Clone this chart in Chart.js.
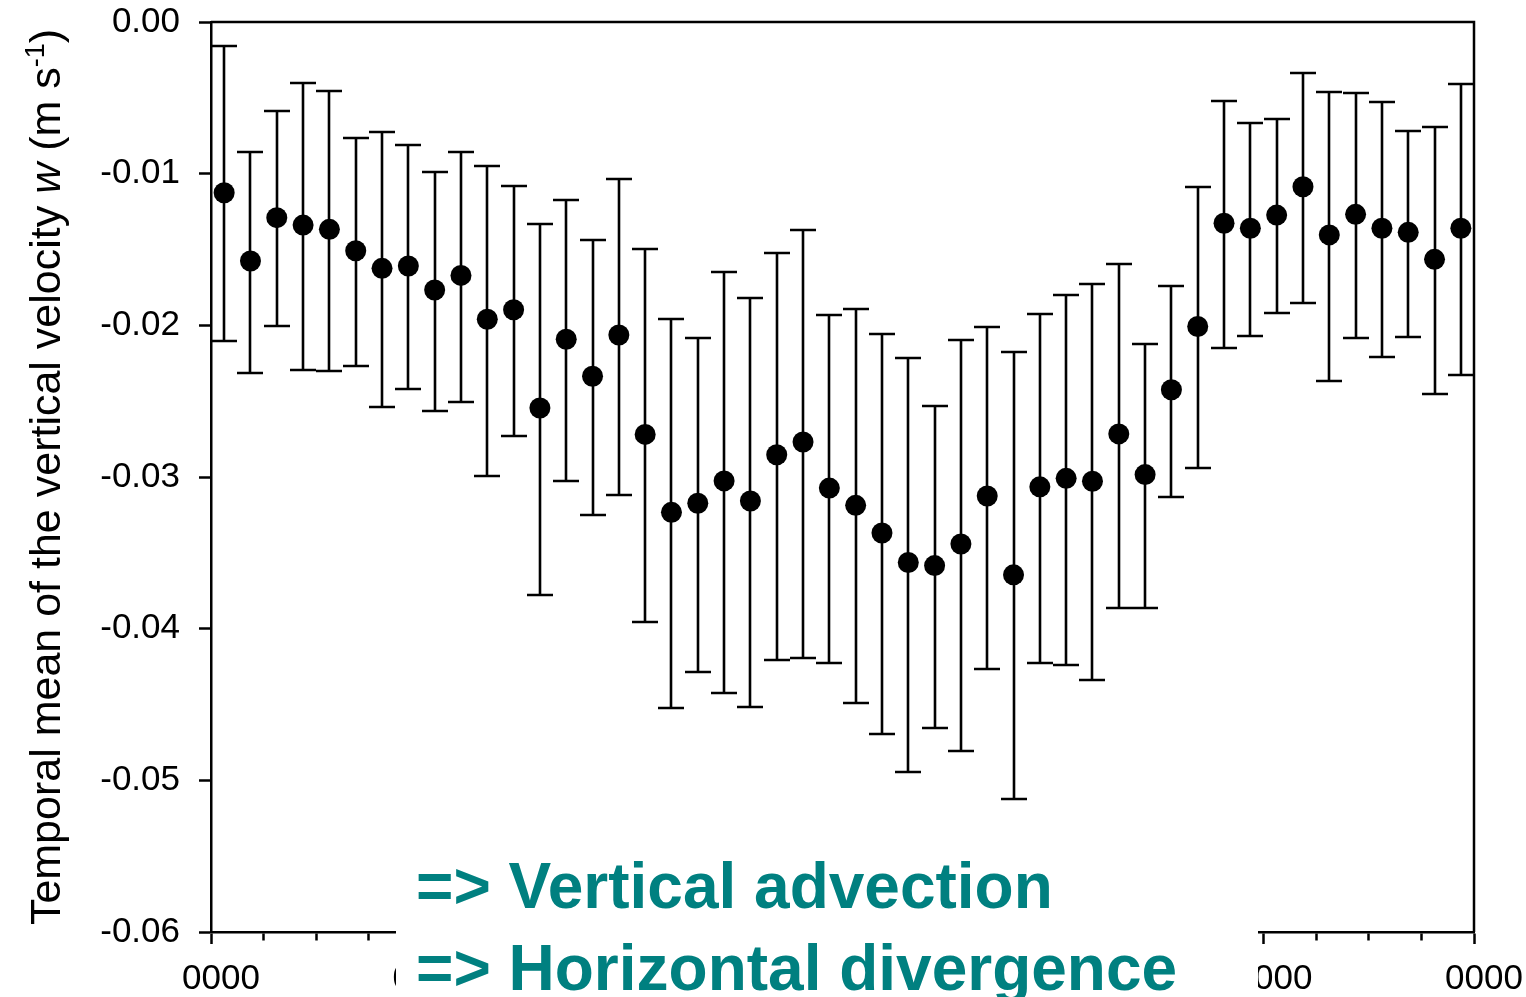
<!DOCTYPE html>
<html><head><meta charset="utf-8">
<script src="https://cdn.jsdelivr.net/npm/chart.js@4"></script>
<style>html,body{margin:0;padding:0;background:#fff;overflow:hidden}#wrap{width:1526px;height:997px;position:relative}</style>
</head><body><div id="wrap"><canvas id="c" width="1526" height="997"></canvas></div>
<script>
// Time of each half-hourly bin (hours after midnight)
const hours = [0.25,0.75,1.25,1.75,2.25,2.75,3.25,3.75,4.25,4.75,5.25,5.75,
  6.25,6.75,7.25,7.75,8.25,8.75,9.25,9.75,10.25,10.75,11.25,11.75,
  12.25,12.75,13.25,13.75,14.25,14.75,15.25,15.75,16.25,16.75,17.25,17.75,
  18.25,18.75,19.25,19.75,20.25,20.75,21.25,21.75,22.25,22.75,23.25,23.75];
// Temporal mean of w (m s-1)
const meanW = [-0.01126,-0.01576,-0.01290,-0.01339,-0.01367,-0.01508,-0.01624,-0.01609,-0.01767,-0.01671,
  -0.01960,-0.01897,-0.02545,-0.02092,-0.02336,-0.02064,-0.02719,-0.03233,-0.03173,-0.03026,
  -0.03158,-0.02853,-0.02769,-0.03073,-0.03187,-0.03369,-0.03564,-0.03584,-0.03442,-0.03125,
  -0.03645,-0.03065,-0.03009,-0.03028,-0.02716,-0.02984,-0.02425,-0.02008,-0.01327,-0.01360,
  -0.01273,-0.01086,-0.01404,-0.01268,-0.01360,-0.01387,-0.01565,-0.01360];
// Upper end of error bar
const upperW = [-0.00158,-0.00859,-0.00589,-0.00402,-0.00453,-0.00765,-0.00727,-0.00811,-0.00989,-0.00854,
  -0.00949,-0.01083,-0.01332,-0.01176,-0.01437,-0.01033,-0.01497,-0.01960,-0.02082,-0.01646,
  -0.01818,-0.01523,-0.01369,-0.01932,-0.01894,-0.02057,-0.02213,-0.02535,-0.02096,-0.02008,
  -0.02179,-0.01923,-0.01801,-0.01730,-0.01596,-0.02125,-0.01740,-0.01088,-0.00519,-0.00668,
  -0.00642,-0.00338,-0.00464,-0.00466,-0.00529,-0.00719,-0.00692,-0.00409];
// Lower end of error bar
const lowerW = [-0.02103,-0.02312,-0.02004,-0.02295,-0.02299,-0.02268,-0.02539,-0.02422,-0.02563,-0.02508,
  -0.02993,-0.02728,-0.03778,-0.03028,-0.03253,-0.03121,-0.03956,-0.04523,-0.04286,-0.04424,
  -0.04517,-0.04207,-0.04193,-0.04226,-0.04491,-0.04697,-0.04942,-0.04652,-0.04807,-0.04267,
  -0.05126,-0.04228,-0.04238,-0.04340,-0.03862,-0.03862,-0.03133,-0.02943,-0.02151,-0.02068,
  -0.01921,-0.01855,-0.02367,-0.02082,-0.02211,-0.02075,-0.02453,-0.02330];
const xTickLabels = ["0000","0400","0800","1200","1600","2000","0000"];
const yTitleParts = [
  {text:"Temporal mean of the vertical velocity ", style:"normal"},
  {text:"w", style:"italic"},
  {text:" (m s", style:"normal"},
  {text:"-1", style:"sup"},
  {text:")", style:"normal"}
];
const noteLines = ["=> Vertical advection", "=> Horizontal divergence"];

const FONT = "'Liberation Sans', Arial, sans-serif";

const errorBars = {
  id: 'errorBars',
  beforeDatasetsDraw(chart) {
    const {ctx, scales: {x, y}} = chart;
    ctx.save();
    ctx.strokeStyle = '#000';
    ctx.lineWidth = 2.6;
    hours.forEach((h, i) => {
      const px = Math.round(x.getPixelForValue(h));
      const yt = Math.round(y.getPixelForValue(upperW[i]));
      const yb = Math.round(y.getPixelForValue(lowerW[i]));
      ctx.beginPath();
      ctx.moveTo(px, yt); ctx.lineTo(px, yb);
      ctx.moveTo(px - 13, yt); ctx.lineTo(px + 13, yt);
      ctx.moveTo(px - 13, yb); ctx.lineTo(px + 13, yb);
      ctx.stroke();
    });
    ctx.restore();
  }
};

const frameAndNotes = {
  id: 'frameAndNotes',
  afterDraw(chart) {
    const {ctx, chartArea: a} = chart;
    ctx.save();
    // top and right frame lines
    ctx.strokeStyle = '#000';
    ctx.lineWidth = 2.5;
    ctx.beginPath();
    ctx.moveTo(a.left, a.top); ctx.lineTo(a.right, a.top); ctx.lineTo(a.right, a.bottom);
    ctx.stroke();
    // white text box with teal notes
    ctx.fillStyle = '#fff';
    ctx.fillRect(396, 845, 862, 160);
    ctx.fillStyle = '#008080';
    ctx.font = "bold 64px " + FONT;
    ctx.textAlign = 'left';
    ctx.textBaseline = 'alphabetic';
    ctx.fillText(noteLines[0], 416, 908);
    ctx.fillText(noteLines[1], 416, 990);
    // y-axis title
    ctx.fillStyle = '#000';
    const size = 43;
    const fonts = {
      normal: size + "px " + FONT,
      italic: "italic " + size + "px " + FONT,
      sup: Math.round(size * 0.62) + "px " + FONT
    };
    let total = 0;
    yTitleParts.forEach(p => { ctx.font = fonts[p.style]; total += ctx.measureText(p.text).width; });
    const cy = (a.top + a.bottom) / 2;
    ctx.translate(60, cy);
    ctx.rotate(-Math.PI / 2);
    let xpos = -total / 2;
    yTitleParts.forEach(p => {
      ctx.font = fonts[p.style];
      const dy = p.style === 'sup' ? -size * 0.38 : 0;
      ctx.fillText(p.text, xpos, dy);
      xpos += ctx.measureText(p.text).width;
    });
    ctx.restore();
  }
};

new Chart(document.getElementById('c'), {
  type: 'scatter',
  data: {
    datasets: [{
      data: hours.map((h, i) => ({x: h, y: meanW[i]})),
      backgroundColor: '#000',
      borderColor: '#000',
      borderWidth: 0,
      pointRadius: 10.5,
      pointHoverRadius: 10.5
    }]
  },
  options: {
    responsive: false,
    animation: false,
    devicePixelRatio: 1,
    layout: {padding: {left: 0, right: 52, top: 22, bottom: 0}},
    plugins: {legend: {display: false}, tooltip: {enabled: false}},
    scales: {
      x: {
        type: 'linear', min: 0, max: 24,
        afterFit(s) { s.height = 65; s.paddingLeft = 0; s.paddingRight = 0; },
        border: {display: true, color: '#000', width: 2.5},
        grid: {
          drawOnChartArea: false, tickLength: 12, tickWidth: 2.5, tickColor: '#000',
          tickBorderDash: (c) => (c.tick && c.tick.value % 4 === 0) ? [] : [7, 50]
        },
        ticks: {
          stepSize: 1, autoSkip: false, maxRotation: 0, minRotation: 0,
          padding: 14, labelOffset: 10, color: '#000',
          font: {family: FONT, size: 35},
          callback: (v) => (v % 4 === 0) ? xTickLabels[v / 4] : ''
        }
      },
      y: {
        min: -0.06, max: 0,
        afterFit(s) { s.width = 211; s.paddingTop = 0; s.paddingBottom = 0; },
        border: {display: true, color: '#000', width: 2.5},
        grid: {drawOnChartArea: false, tickLength: 12, tickWidth: 2.5, tickColor: '#000'},
        ticks: {
          stepSize: 0.01, padding: 19, color: '#000',
          font: {family: FONT, size: 35},
          callback: (v) => Number(v).toFixed(2)
        }
      }
    }
  },
  plugins: [errorBars, frameAndNotes]
});
</script></body></html>
